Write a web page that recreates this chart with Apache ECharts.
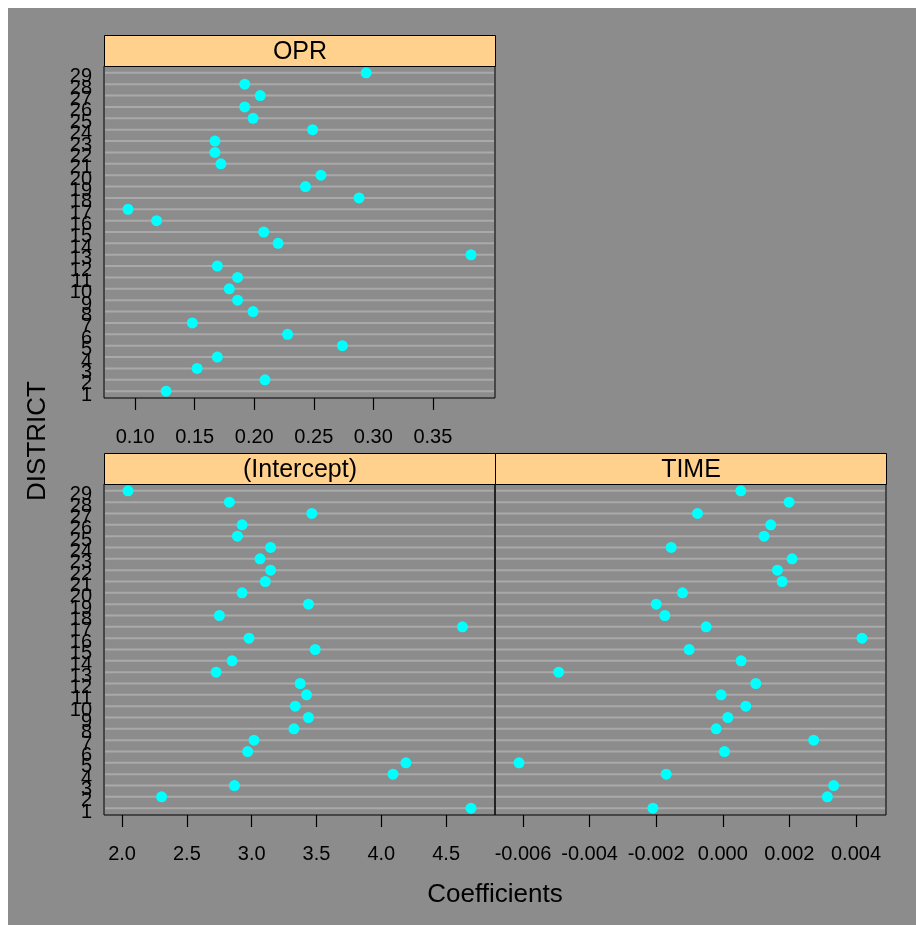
<!DOCTYPE html>
<html>
<head>
<meta charset="utf-8">
<script src="https://cdn.jsdelivr.net/npm/echarts@6/dist/echarts.min.js"></script>
<style>
  html, body { margin: 0; padding: 0; background: #ffffff; }
  #chart {
    width: 916px; height: 925px;
    background: linear-gradient(#8c8c8c, #8c8c8c) 8px 8px / 100% 100% no-repeat #ffffff;
  }
</style>
</head>
<body>
<div id="chart"></div>
<script>
// District labels (rows, bottom to top)
const districts = ['1','2','3','4','5','6','7','8','9','10','11','12','13','14','15',
                   '16','17','18','19','20','21','22','23','24','25','26','27','28','29'];

// Per-district coefficient estimates, in district order 1..29
const oprCoef = [0.126, 0.209, 0.152, 0.169, 0.274, 0.228, 0.148, 0.199, 0.186, 0.179,
                 0.186, 0.169, 0.382, 0.220, 0.208, 0.118, 0.094, 0.288, 0.243, 0.256,
                 0.172, 0.167, 0.167, 0.249, 0.199, 0.192, 0.205, 0.192, 0.294];
const interceptCoef = [4.692, 2.305, 2.867, 4.090, 4.190, 2.969, 3.018, 3.326, 3.438, 3.336,
                       3.423, 3.374, 2.726, 2.849, 3.490, 2.979, 4.626, 2.751, 3.438, 2.926,
                       3.105, 3.146, 3.064, 3.146, 2.890, 2.926, 3.464, 2.828, 2.046];
const timeCoef = [-0.00210, 0.00314, 0.00333, -0.00170, -0.00612, 0.00005, 0.00273, -0.00020,
                  0.00015, 0.00069, -0.00005, 0.00099, -0.00493, 0.00055, -0.00101, 0.00418,
                  -0.00050, -0.00174, -0.00200, -0.00121, 0.00178, 0.00164, 0.00208, -0.00155,
                  0.00124, 0.00144, -0.00076, 0.00199, 0.00054];

// Tick positions on each panel's coefficient axis
const oprTicks = [0.10, 0.15, 0.20, 0.25, 0.30, 0.35];
const interceptTicks = [2.0, 2.5, 3.0, 3.5, 4.0, 4.5];
const timeTicks = [-0.006, -0.004, -0.002, 0.000, 0.002, 0.004];

// Panel titles
const panelNames = ['OPR', '(Intercept)', 'TIME'];

const FONT = '"Liberation Sans", Arial, sans-serif';
const STRIP = '#ffd18c';
const GRIDLINE = '#a9a9a9';
const DOT = '#00ffff';

// Axis limits padded by 7% of the data range on each side
function padded(vals) {
  const lo = Math.min(...vals), hi = Math.max(...vals);
  const d = (hi - lo) * 0.07;
  return [lo - d, hi + d];
}

const panels = [
  { name: panelNames[0], values: oprCoef, ticks: oprTicks, digits: 2,
    box: { left: 104, top: 66, width: 391, height: 332 }, showY: true },
  { name: panelNames[1], values: interceptCoef, ticks: interceptTicks, digits: 1,
    box: { left: 104, top: 484, width: 391, height: 331 }, showY: true },
  { name: panelNames[2], values: timeCoef, ticks: timeTicks, digits: 3,
    box: { left: 495, top: 484, width: 391, height: 331 }, showY: false }
];

const grid = [], xAxis = [], yAxis = [], series = [], graphic = [];
const rowValues = districts.map(d => Number(d));

panels.forEach((p, i) => {
  const lim = padded(p.values);
  grid.push({
    left: p.box.left, top: p.box.top, width: p.box.width, height: p.box.height,
    show: true, borderColor: '#000', borderWidth: 1, backgroundColor: 'transparent'
  });
  xAxis.push({
    type: 'value', gridIndex: i, min: lim[0], max: lim[1],
    axisLine: { show: false },
    splitLine: { show: false },
    axisTick: { show: true, customValues: p.ticks, inside: false, length: 12,
                lineStyle: { color: '#000', width: 1.2 } },
    axisLabel: { show: true, customValues: p.ticks, margin: 29,
                 showMinLabel: true, showMaxLabel: true,
                 formatter: v => Number(v).toFixed(p.digits),
                 color: '#000', fontSize: 20, fontFamily: FONT }
  });
  yAxis.push({
    type: 'value', gridIndex: i, min: 0.4, max: 29.6,
    axisLine: { show: false },
    splitLine: { show: false },
    axisTick: { show: false },
    axisLabel: { show: false }
  });
  // Reference line for every district row, plus the district number to the
  // left of the panel (drawn here so that overlapping numbers all stay visible)
  series.push({
    type: 'custom', xAxisIndex: i, yAxisIndex: i, silent: true, z: 1, clip: false,
    data: rowValues.map(r => [lim[0], r]),
    renderItem: (params, api) => {
      const y = api.coord([api.value(0), api.value(1)])[1];
      const cs = params.coordSys;
      const children = [{
        type: 'line',
        shape: { x1: cs.x + 1, y1: y, x2: cs.x + cs.width - 1, y2: y },
        style: { stroke: GRIDLINE, lineWidth: 2 }
      }];
      if (p.showY) {
        children.push({
          type: 'text', x: cs.x - 12, y: y + 4,
          style: { text: districts[params.dataIndex], fill: '#000',
                   font: '20px ' + FONT, align: 'right', verticalAlign: 'middle' }
        });
      }
      return { type: 'group', children };
    }
  });
  // Coefficient dots
  series.push({
    type: 'scatter', xAxisIndex: i, yAxisIndex: i, z: 3,
    symbol: 'circle', symbolSize: 11,
    itemStyle: { color: DOT, opacity: 1 },
    data: p.values.map((v, k) => [v, rowValues[k]])
  });
  // Strip with the panel title
  graphic.push({
    type: 'group', left: p.box.left, top: p.box.top - 31, silent: true,
    children: [
      { type: 'rect', shape: { x: 0, y: 0, width: p.box.width, height: 31 },
        style: { fill: STRIP, stroke: '#000', lineWidth: 1 } },
      { type: 'text', x: p.box.width / 2, y: 17,
        style: { text: p.name, fill: '#000', font: '25px ' + FONT,
                 align: 'center', verticalAlign: 'middle' } }
    ]
  });
});

// Axis titles
graphic.push({
  type: 'text', x: 38, y: 441, rotation: Math.PI / 2, silent: true,
  style: { text: 'DISTRICT', fill: '#000', font: '26px ' + FONT,
           align: 'center', verticalAlign: 'middle' }
});
graphic.push({
  type: 'text', x: 495, y: 895, silent: true,
  style: { text: 'Coefficients', fill: '#000', font: '26px ' + FONT,
           align: 'center', verticalAlign: 'middle' }
});

const chart = echarts.init(document.getElementById('chart'), null, { renderer: 'canvas' });
chart.setOption({
  backgroundColor: 'transparent',
  animation: false,
  grid, xAxis, yAxis, series, graphic
});
</script>
</body>
</html>
